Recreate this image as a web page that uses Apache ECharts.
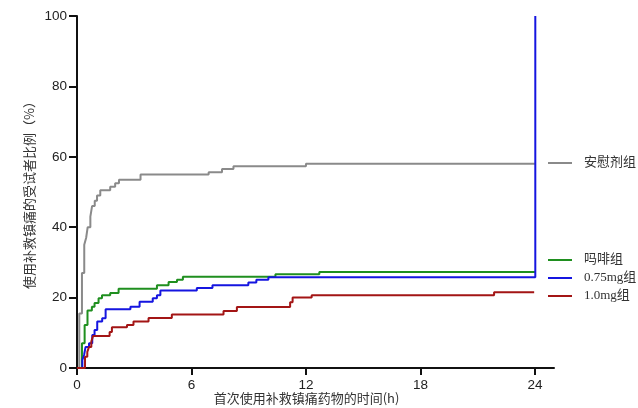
<!DOCTYPE html>
<html>
<head>
<meta charset="utf-8">
<script src="https://cdn.jsdelivr.net/npm/echarts@6/dist/echarts.min.js"></script>
<style>html,body{margin:0;padding:0;background:#fff;}#c{width:638px;height:408px;}</style>
</head>
<body>
<div id="c"></div>
<script>
var seriesNames = ['安慰剂组', '吗啡组', '0.75mg组', '1.0mg组'];
var xTicks = [0, 6, 12, 18, 24];
var yTicks = [0, 20, 40, 60, 80, 100];
var xAxisTitle = '首次使用补救镇痛药物的时间(h)';
var yAxisTitle = '使用补救镇痛的受试者比例（%）';

var placebo = [[0,0],[0.12,15.5],[0.26,27],[0.38,35],[0.48,37],[0.56,40],[0.70,43],[0.79,46],[0.93,47.5],[1.05,49],[1.22,50.5],[1.74,51.5],[2.0,52.5],[2.2,53.5],[3.33,55],[6.9,55.6],[7.6,56.5],[8.2,57.3],[12.0,58.0],[24,58.0]];
var morphine = [[0,0],[0.26,7],[0.40,12.2],[0.55,16.3],[0.78,17.4],[0.92,18.5],[1.13,19.8],[1.31,20.7],[1.74,21.3],[2.18,22.5],[4.19,23.5],[4.8,24.4],[5.24,25.1],[5.55,25.9],[10.4,26.6],[12.7,27.3],[24,27.3]];
var dose075 = [[0,0],[0.28,2.3],[0.37,3.7],[0.45,6],[0.63,7],[0.80,9.4],[0.92,10.8],[1.06,13.2],[1.32,14.1],[1.50,16.7],[2.8,17.4],[3.28,18.8],[3.97,19.8],[4.19,20.7],[4.37,22.0],[6.28,22.7],[7.1,23.5],[8.98,24.3],[9.4,25.1],[10.03,25.8],[24.02,25.8],[24.02,100]];
var dose10 = [[0,0],[0.42,3.2],[0.54,4.6],[0.63,6],[0.75,7.5],[0.84,9.1],[1.71,10.2],[1.83,11.6],[2.62,12.2],[2.96,13.2],[3.75,14.2],[4.97,15.2],[7.68,16.2],[8.38,17.3],[11.17,18.7],[11.3,20.0],[12.3,20.7],[21.86,21.5],[23.96,21.5]];

var colors = ['#8a8a8a', '#1f8f1f', '#1515e0', '#a31515'];
var dataList = [placebo, morphine, dose075, dose10];

var chart = echarts.init(document.getElementById('c'), null, {renderer: 'canvas'});
var legendText = {fontFamily: 'Liberation Serif, Noto Sans CJK SC', fontSize: 13, color: '#333', lineHeight: 14, padding: [0, 0, 0, 7]};
chart.setOption({
  animation: false,
  backgroundColor: '#fff',
  grid: {left: 77, right: 84, top: 16, bottom: 40, containLabel: false, outerBoundsMode: 'none'},
  legend: [
    {data: [seriesNames[0]], orient: 'vertical', left: 548, top: 156, padding: 0, icon: 'rect', itemWidth: 24, itemHeight: 2, itemGap: 4, textStyle: legendText},
    {data: seriesNames.slice(1), orient: 'vertical', left: 548, top: 253, padding: 0, icon: 'rect', itemWidth: 24, itemHeight: 2, itemGap: 4, textStyle: legendText}
  ],
  xAxis: {
    type: 'value', min: 0, max: 25,
    name: xAxisTitle, nameLocation: 'middle', nameGap: 24, nameMoveOverlap: false,
    nameTextStyle: {fontFamily: 'Noto Sans CJK SC', fontSize: 13, color: '#333', padding: [0, 18, 0, 0]},
    axisLine: {show: true, lineStyle: {color: '#111', width: 2}},
    axisTick: {show: true, length: 7, lineStyle: {color: '#111', width: 2}, customValues: xTicks},
    axisLabel: {customValues: xTicks, fontFamily: 'Liberation Sans, Arial', fontSize: 13.5, color: '#222', margin: 10},
    splitLine: {show: false}
  },
  yAxis: {
    type: 'value', min: 0, max: 100, interval: 20,
    name: yAxisTitle, nameLocation: 'middle', nameGap: 41, nameRotate: 90, nameMoveOverlap: false,
    nameTextStyle: {fontFamily: 'Noto Sans CJK SC', fontSize: 13, color: '#333'},
    axisLine: {show: true, lineStyle: {color: '#111', width: 2}},
    axisTick: {show: true, length: 8, lineStyle: {color: '#111', width: 2}},
    axisLabel: {fontFamily: 'Liberation Sans, Arial', fontSize: 13.5, color: '#222', margin: 10},
    splitLine: {show: false}
  },
  series: seriesNames.map(function (n, i) {
    return {
      name: n, type: 'line', step: 'end', showSymbol: false, symbol: 'none',
      data: dataList[i], color: colors[i],
      lineStyle: {width: 2, color: colors[i]}, clip: true
    };
  })
});
</script>
</body>
</html>
